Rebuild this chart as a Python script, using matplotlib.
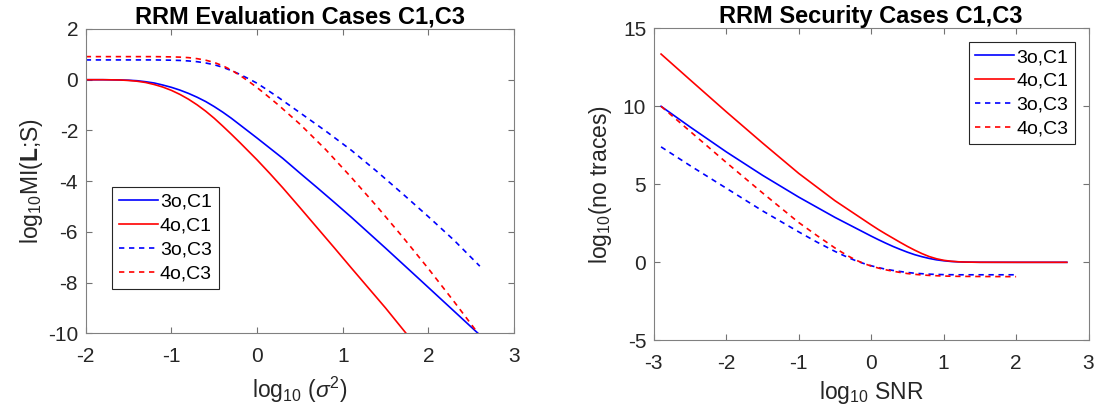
import matplotlib
matplotlib.use('Agg')
import matplotlib.pyplot as plt

plt.rcParams['font.family'] = ['Liberation Sans', 'DejaVu Sans']
plt.rcParams['mathtext.fontset'] = 'custom'
plt.rcParams['mathtext.rm'] = 'Liberation Sans'
plt.rcParams['mathtext.it'] = 'Liberation Sans:italic'
plt.rcParams['mathtext.bf'] = 'Liberation Sans:bold'
plt.rcParams['axes.unicode_minus'] = False

# left panel: log10 MI(L;S) vs log10 sigma^2
x_31 = [-2, -1.8, -1.6, -1.5, -1.4, -1.3, -1.2, -1.1, -1.0, -0.9, -0.8, -0.7, -0.6, -0.5,
        -0.4, -0.3, -0.2, -0.1, 0, 0.15, 0.3, 0.5, 0.7, 0.9, 1.1, 1.5, 1.9, 2.25, 2.58]
y_31 = [0, 0, -0.01, -0.02, -0.04, -0.08, -0.13, -0.21, -0.3, -0.41, -0.54, -0.69, -0.86, -1.06,
        -1.28, -1.52, -1.78, -2.04, -2.3, -2.7, -3.1, -3.68, -4.25, -4.83, -5.42, -6.64, -7.88, -8.97, -10]
x_41 = [-2, -1.8, -1.6, -1.5, -1.4, -1.3, -1.2, -1.1, -1.0, -0.9, -0.8, -0.7, -0.6, -0.5,
        -0.4, -0.3, -0.2, -0.1, 0, 0.15, 0.3, 0.5, 0.7, 0.9, 1.1, 1.3, 1.5, 1.74]
y_41 = [0, 0, -0.01, -0.03, -0.06, -0.11, -0.19, -0.29, -0.42, -0.58, -0.77, -0.99, -1.24, -1.52,
        -1.83, -2.15, -2.48, -2.82, -3.16, -3.7, -4.26, -5.04, -5.83, -6.62, -7.42, -8.21, -9.0, -10]
x_33 = [-2, -1.2, -1.0, -0.9, -0.8, -0.7, -0.6, -0.5, -0.4, -0.3, -0.2, -0.1, 0, 0.1,
        0.25, 0.5, 0.8, 1.1, 1.4, 1.7, 2.0, 2.3, 2.6]
y_33 = [0.78, 0.78, 0.77, 0.76, 0.74, 0.71, 0.66, 0.59, 0.49, 0.36, 0.21, 0.04, -0.14, -0.36,
        -0.7, -1.3, -2.02, -2.78, -3.62, -4.5, -5.4, -6.33, -7.35]
x_43 = [-2, -1.2, -1.0, -0.9, -0.8, -0.7, -0.6, -0.5, -0.4, -0.3, -0.2, -0.1, 0, 0.1,
        0.25, 0.5, 0.8, 1.1, 1.4, 1.7, 2.0, 2.3, 2.58]
y_43 = [0.91, 0.91, 0.9, 0.89, 0.87, 0.83, 0.77, 0.68, 0.55, 0.38, 0.17, -0.06, -0.31, -0.58,
        -1.0, -1.75, -2.75, -3.85, -5.0, -6.2, -7.45, -8.75, -10]

# right panel: log10(no traces) vs log10 SNR
snr_c1 = [-2.9, -2.5, -2, -1.5, -1, -0.5, 0, 0.1, 0.2, 0.3, 0.4, 0.5, 0.6, 0.7, 0.8,
          0.9, 1.0, 1.1, 1.2, 1.3, 1.5, 2, 2.7]
tr_31 = [10.0, 8.68, 7.08, 5.58, 4.18, 2.88, 1.68, 1.45, 1.23, 1.02, 0.83, 0.65, 0.49, 0.36, 0.25,
         0.16, 0.1, 0.055, 0.03, 0.015, 0.003, 0, 0]
tr_41 = [13.35, 11.7, 9.65, 7.65, 5.7, 3.95, 2.4, 2.1, 1.82, 1.55, 1.28, 1.02, 0.78, 0.56, 0.37,
         0.23, 0.13, 0.07, 0.035, 0.015, 0.003, 0, 0]
snr_c3 = [-2.9, -2.5, -2, -1.5, -1, -0.75, -0.5, -0.4, -0.3, -0.2, -0.1, 0, 0.1, 0.2, 0.3,
          0.4, 0.5, 0.6, 0.7, 0.8, 1.0, 1.2, 1.5, 2.0]
tr_33 = [7.4, 6.2, 4.75, 3.3, 1.95, 1.3, 0.7, 0.48, 0.27, 0.08, -0.08, -0.22, -0.34, -0.44, -0.52,
         -0.59, -0.65, -0.7, -0.73, -0.76, -0.79, -0.8, -0.8, -0.8]
tr_43 = [10.0, 8.4, 6.4, 4.45, 2.55, 1.72, 0.92, 0.63, 0.36, 0.12, -0.08, -0.24, -0.37, -0.48, -0.57,
         -0.65, -0.72, -0.77, -0.81, -0.84, -0.88, -0.9, -0.91, -0.92]

labels = ['3o,C1', '4o,C1', '3o,C3', '4o,C3']
BLUE = '#0000ff'
RED = '#ff0000'
LW = 1.2
DASH = (3.2, 2.8)


def style_axes(ax):
    for s in ax.spines.values():
        s.set_color('0.5')
        s.set_linewidth(0.8)
    ax.tick_params(direction='in', top=True, right=True, length=4,
                   width=0.8, color='0.45', labelsize=15, labelcolor='0.15')
    ax.tick_params(axis='x', pad=10)
    ax.tick_params(axis='y', pad=5.5)


def add_legend(ax, loc, anchor):
    leg = ax.legend(loc=loc, bbox_to_anchor=anchor, fontsize=14,
                    handlelength=2.0, handletextpad=0.1, labelspacing=0.32,
                    borderpad=0.35, borderaxespad=0, fancybox=False, framealpha=1)
    leg.get_frame().set_edgecolor('0.15')
    leg.get_frame().set_linewidth(0.8)


fig = plt.figure(figsize=(11.02, 4.17), dpi=100)

ax1 = fig.add_axes([0.0778, 0.2005, 0.3887, 0.730])
ax1.plot(x_31, y_31, color=BLUE, lw=LW, label=labels[0])
ax1.plot(x_41, y_41, color=RED, lw=LW, label=labels[1])
ax1.plot(x_33, y_33, color=BLUE, lw=LW, ls='--', dashes=DASH, label=labels[2])
ax1.plot(x_43, y_43, color=RED, lw=LW, ls='--', dashes=DASH, label=labels[3])
ax1.set_xlim(-2, 3)
ax1.set_ylim(-10, 2)
ax1.set_xticks(range(-2, 4))
ax1.set_yticks(range(-10, 3, 2))
style_axes(ax1)
ax1.set_title('RRM Evaluation Cases C1,C3', fontsize=17, fontweight='bold', pad=4)
ax1.set_xlabel(r'log$_{10}$ ($\sigma^2$)', fontsize=16.5, color='0.15', labelpad=6)
ax1.set_ylabel(r'log$_{10}$MI($\mathbf{L}$;S)', fontsize=16.5, color='0.15', labelpad=2)
add_legend(ax1, 'lower left', (0.062, 0.145))

ax2 = fig.add_axes([0.5933, 0.1839, 0.3945, 0.7482])
ax2.plot(snr_c1, tr_31, color=BLUE, lw=LW, label=labels[0])
ax2.plot(snr_c1, tr_41, color=RED, lw=LW, label=labels[1])
ax2.plot(snr_c3, tr_33, color=BLUE, lw=LW, ls='--', dashes=DASH, label=labels[2])
ax2.plot(snr_c3, tr_43, color=RED, lw=LW, ls='--', dashes=DASH, label=labels[3])
ax2.set_xlim(-3, 3)
ax2.set_ylim(-5, 15)
ax2.set_xticks(range(-3, 4))
ax2.set_yticks(range(-5, 16, 5))
style_axes(ax2)
ax2.set_title('RRM Security Cases C1,C3', fontsize=17, fontweight='bold', pad=4)
ax2.set_xlabel(r'log$_{10}$ SNR', fontsize=16.5, color='0.15', labelpad=4)
ax2.set_ylabel(r'log$_{10}$(no traces)', fontsize=16.5, color='0.15', labelpad=6)
add_legend(ax2, 'upper right', (0.969, 0.957))

fig.savefig('out.png', dpi=100)
